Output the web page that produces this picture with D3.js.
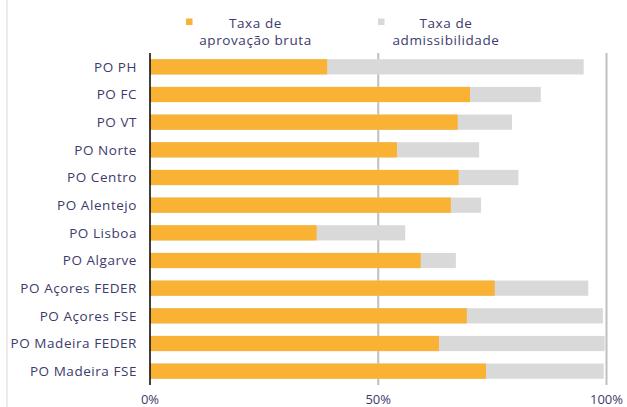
<!DOCTYPE html>
<html>
<head>
<meta charset="utf-8">
<script src="https://cdn.jsdelivr.net/npm/d3@7/dist/d3.min.js"></script>
<style>
  html, body { margin: 0; padding: 0; background: #fff; }
  svg { display: block; }
  text { font-family: "Open Sans", "Noto Sans", sans-serif; fill: #3d3a6c; }
</style>
</head>
<body>
<script>
const categories = ["PO PH", "PO FC", "PO VT", "PO Norte", "PO Centro", "PO Alentejo",
  "PO Lisboa", "PO Algarve", "PO Açores FEDER", "PO Açores FSE", "PO Madeira FEDER", "PO Madeira FSE"];
const aprovacao = [38.8, 70.1, 67.4, 54.1, 67.6, 65.9, 36.5, 59.3, 75.5, 69.4, 63.3, 73.6];
const admissibilidade = [95.0, 85.6, 79.3, 72.1, 80.7, 72.5, 55.9, 67.0, 96.0, 99.2, 99.6, 99.4];
const tickValues = [0, 50, 100];
const tickLabels = ["0%", "50%", "100%"];
const seriesNames = [["Taxa de", "aprovação bruta"], ["Taxa de", "admissibilidade"]];
const seriesColors = ["#F9B233", "#D9D9D9"];

const W = 627, H = 407;
const svg = d3.select("body").append("svg").attr("width", W).attr("height", H);

const x = d3.scaleLinear().domain([0, 100]).range([150, 606.5]);
const y = d3.scaleBand().domain(categories).range([53, 385]).paddingInner(0.45).paddingOuter(0.225);

// left frame line
svg.append("line").attr("x1", 7).attr("x2", 7).attr("y1", 0).attr("y2", H)
  .attr("stroke", "#d9d9d9").attr("stroke-width", 1);

// gridlines
svg.append("g").selectAll("line").data(tickValues.filter(d => d > 0)).join("line")
  .attr("x1", d => x(d)).attr("x2", d => x(d))
  .attr("y1", 53).attr("y2", 385)
  .attr("stroke", "#bfbfbf").attr("stroke-width", 2);

// gray bars (admissibilidade)
svg.append("g").selectAll("rect").data(categories).join("rect")
  .attr("x", x(0)).attr("y", d => y(d))
  .attr("width", (d, i) => x(admissibilidade[i]) - x(0))
  .attr("height", y.bandwidth())
  .attr("fill", seriesColors[1]);

// orange bars (aprovação)
svg.append("g").selectAll("rect").data(categories).join("rect")
  .attr("x", x(0)).attr("y", d => y(d))
  .attr("width", (d, i) => x(aprovacao[i]) - x(0))
  .attr("height", y.bandwidth())
  .attr("fill", seriesColors[0]);

// y axis line
svg.append("line").attr("x1", x(0)).attr("x2", x(0)).attr("y1", 53).attr("y2", 385)
  .attr("stroke", "#000").attr("stroke-width", 1.5);

// category labels
svg.append("g").selectAll("text").data(categories).join("text")
  .attr("x", 137).attr("y", d => y(d) + y.bandwidth() / 2)
  .attr("dy", "0.36em")
  .attr("text-anchor", "end")
  .attr("font-size", 13.5)
  .attr("letter-spacing", 0.55)
  .text(d => d);

// x tick labels
svg.append("g").selectAll("text").data(tickValues).join("text")
  .attr("x", d => x(d)).attr("y", 404)
  .attr("text-anchor", "middle")
  .attr("font-size", 13)
  .text((d, i) => tickLabels[i]);

// legend
const legendX = [189, 381];
const legendTextX = [255.5, 446];
const lg = svg.append("g");
seriesNames.forEach((lines, i) => {
  lg.append("rect").attr("x", legendX[i] - 3).attr("y", 18.5).attr("width", 6.5).attr("height", 6.5)
    .attr("fill", seriesColors[i]);
  lines.forEach((t, j) => {
    lg.append("text").attr("x", legendTextX[i]).attr("y", 28 + j * 16.5)
      .attr("text-anchor", "middle").attr("font-size", 13.5).attr("letter-spacing", 0.6)
      .text(t);
  });
});
</script>
</body>
</html>
